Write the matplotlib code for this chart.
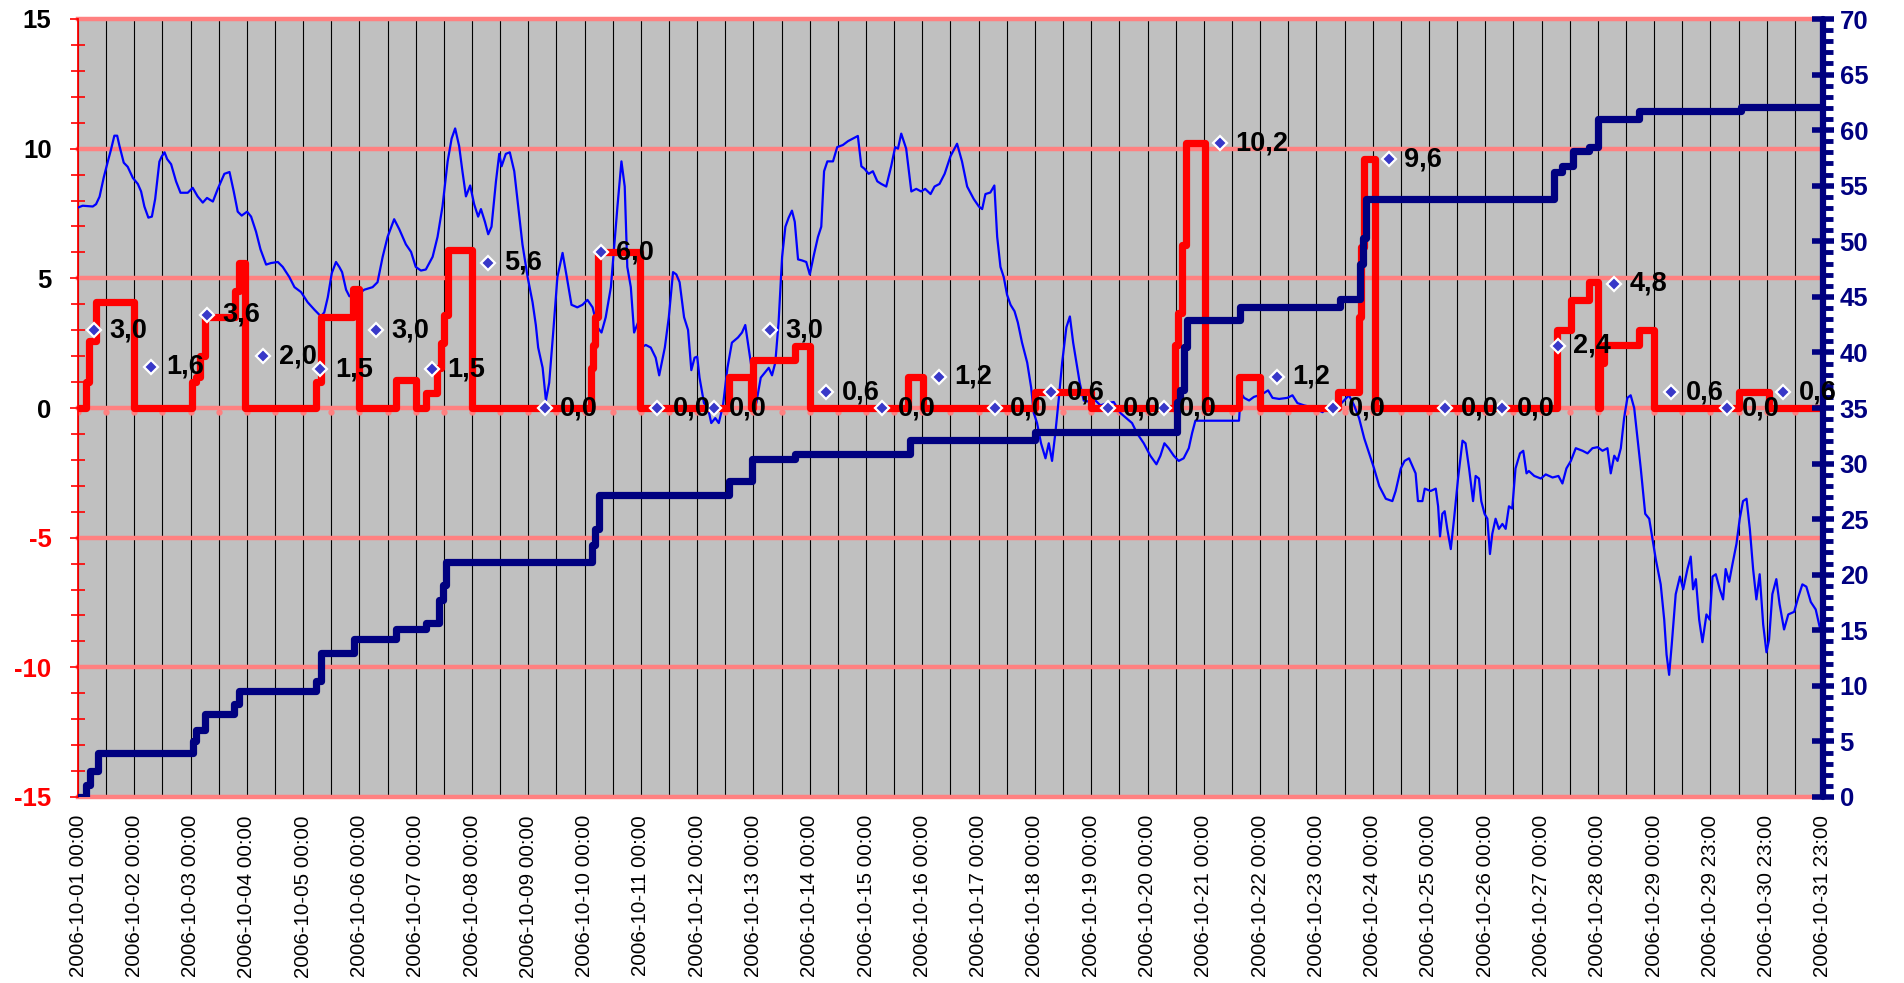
import matplotlib
matplotlib.use("Agg")
import matplotlib.pyplot as plt
import matplotlib.transforms as mtransforms
from matplotlib.ticker import MultipleLocator

plt.rcParams['font.family'] = ['Liberation Sans', 'DejaVu Sans']

# ---------------- data ----------------
# x axis: hour index from 2006-10-01 00:00 (hourly records, one repeated at DST change)
date_labels = ["2006-10-%02d 00:00" % d for d in range(1, 30)] + [
    "2006-10-29 23:00", "2006-10-30 23:00", "2006-10-31 23:00"]

# thin blue line (left axis)
blue_hours = [0, 2, 6.3, 7.7, 9.2, 11, 12.7, 14, 15.5, 16.7, 17.7, 19.5, 21.2, 23.4, 25.5, 26.9, 28.3, 30, 31.5, 32.9,
              34.7, 35.7, 36.9, 38, 39.7, 41.8, 43.7, 46.8, 48.9, 51, 53.2, 55, 57.5, 59.6, 62.4, 64.6, 66.4, 68.1, 69.8,
              72.1, 73.8, 75.9, 77.8, 80.2, 82.3, 85.2, 87.3, 90.1, 92.3, 95.1, 97.9, 100.8, 103.6, 105, 106.5, 108.2,
              110, 111.4, 112.6, 114.3, 115.7, 118.5, 120.7,
              122, 125.6, 127.7, 129.9, 132, 134.8, 137, 139.8, 142, 144, 146.2, 148.3, 151.2, 153.3, 155.4, 157.6,
              159.3, 160.8, 162.5, 163.9, 165.4, 167.2, 168.9, 170.6, 171.8, 173.5, 174.9, 176.3, 178.2, 179.6, 180.6,
              182.4, 184.1, 186, 187.7, 189.5, 191.7, 193.8, 195.2, 196.2, 198.1, 199.5, 200.9, 202.6, 204.4, 206.6,
              208.4, 210.4, 212.9, 215.1, 217.2, 219.4, 221.5, 223.2, 225, 227.2, 230, 231.7, 233.1, 234.2, 235.7,
              237.1, 238.8, 240, 242.1, 244.2, 246.3, 247.8,
              250.2, 251.9, 253.7, 255.1, 256.5, 258.4, 260.1, 261.5, 262.9, 264, 265, 266.9, 268.6, 270, 271.7,
              273.2, 275, 276.9, 278.8, 281.4, 283.1, 284.5, 285.9, 287.8, 289.2, 291.1, 292.8, 294.5, 295.9, 297.3,
              298.7, 300.2, 301.6, 303, 304.4, 305.6, 307, 308.7, 310.5, 312, 313.8, 315.5, 316.9, 318.1, 319.5,
              321.9, 323.7, 326.1, 328.3, 330.4, 332.5, 334, 335.4, 337.1, 338.9, 340.8, 342.5, 344.6, 346.7, 348.4,
              349.6, 351, 353.1, 355.3, 357.4, 359.5, 361.2, 363.5, 365.2, 367.3, 369.5,
              372, 374.8, 376.9, 379.1, 381.9, 384.1, 385.5, 386.9, 389, 390.7, 391.9, 393.3, 394.7, 396.1, 397.6,
              399.3, 400.7, 402.5, 404.7, 406.4, 407.5, 408.9, 410.6, 412.5, 413.9, 415.3, 416.7, 418.2, 419.6,
              421.4, 422.9, 424.3, 425.7, 427.1, 428.8, 431.7, 433.8, 435.9, 438.8, 441.6, 444.4, 447, 449.4, 451.5,
              454.4, 457.2, 459.8, 461.5, 463.2, 465, 467.2, 469.3, 471.4, 473.6, 475, 476.4, 495,
              495.8, 497.2, 499.3, 501.4, 503.6, 505.7, 507.4, 509.3, 512.1, 515.6, 517.8, 519.9, 522.8, 525.6,
              528.4, 530.6, 532.7, 535.5, 537.7, 539.8, 541.9, 544.1, 546.2, 548.4, 550.5, 552.6, 554.8, 557.6,
              560.4, 561.8, 564, 565.6, 567.5, 568.9, 570.3, 571.3, 573.2, 574.2, 576.7, 578.9, 579.9, 580.7, 581.7,
              582.7, 583.8, 585.3, 586.7, 588.4, 590.3, 591.6, 593.1, 594.8, 595.9, 597.3, 598.3, 599.7, 600.9, 602,
              603, 604.4, 605.8, 607.3, 608.7, 610.1, 611.5, 612.9, 614.8, 616.2, 617.6, 618.6,
              620.9, 623.7, 625.8, 628.7, 631.2, 632.9, 634.6, 636.5, 638.6, 641.5, 643.6, 645.7, 647.9, 650, 652.1,
              653.5, 655, 656.4, 657.8, 659.2, 660.6, 662, 663.5, 664.9, 666.3, 668.2, 669.9, 671.3, 672.7, 674.8,
              676.3, 677.3, 678.4, 679.5, 681.2, 683, 684.4, 686.2, 687.6, 688.6, 689.8, 691.2, 692.6, 694.3, 695.7,
              696.9, 698.3, 700, 701.4, 702.5, 704, 705.4, 707.1, 708.5, 709.9, 711.4, 712.8, 714.2, 715.6, 717,
              718.5, 719.9, 721, 722.4, 724.1, 725.5, 727.4, 729.2, 731.7, 733.5, 735.2, 736.9, 738.8, 740.9, 742.6,
              744]
blue_vals = [7.73, 7.8, 7.77, 7.86, 8.15, 8.9, 9.5, 9.94, 10.5, 10.5, 10.1, 9.46, 9.3, 8.87, 8.64, 8.35, 7.77, 7.34,
             7.38, 8.06, 9.5, 9.7, 9.86, 9.6, 9.4, 8.74, 8.3, 8.3, 8.49, 8.16, 7.92, 8.1, 7.96, 8.45, 9.03, 9.1, 8.35,
             7.57, 7.42, 7.57, 7.38, 6.8, 6.12, 5.53, 5.59, 5.63, 5.44, 5.05, 4.66, 4.47, 4.08, 3.79, 3.53, 3.69,
             4.27, 5.2, 5.63, 5.44, 5.24, 4.56, 4.31, 4.31, 4.47,
             4.56, 4.66, 4.85, 5.83, 6.6, 7.28, 6.89, 6.31, 6.02, 5.44, 5.3, 5.34, 5.83, 6.6, 7.77, 9.51, 10.39,
             10.78, 10.1, 9.13, 8.16, 8.58, 7.86, 7.38, 7.67, 7.18, 6.7, 6.99, 8.74, 9.8, 9.32, 9.8, 9.86, 9.13,
             7.77, 6.31, 5.05, 4.08, 3.2, 2.33, 1.55, 0.29, 0.97, 2.91, 5.05, 5.98, 5.05, 3.98, 3.88, 3.98, 4.17,
             3.88, 3.11, 2.91, 3.5, 4.66, 7.77, 9.51, 8.54, 5.44, 4.66, 2.91, 3.3, 2.33, 2.43, 2.33, 1.94, 1.26,
             2.33, 3.5, 5.24, 5.15, 4.85, 3.5, 3.01, 1.46, 1.94, 1.98, 1.17, 0.19, 0, -0.58, -0.39, -0.58, 0.1,
             1.55, 2.52, 2.72, 2.91, 3.2, 2.33, 1.17, 0.19, 1.17, 1.36, 1.55, 1.26, 1.75, 3.3, 5.83, 6.99, 7.34,
             7.61, 7.18, 5.73, 5.69, 5.63, 5.15, 5.92, 6.6, 6.99, 9.13, 9.51, 9.51, 10.06, 10.14, 10.29, 10.39,
             10.49, 9.32, 9.22, 9.03, 9.13, 8.74, 8.64, 8.54, 9.32, 10.06, 10.0, 10.58, 10.0, 8.35, 8.45, 8.35,
             8.45, 8.25, 8.54, 8.64, 9.03,
             9.71, 10.19, 9.51, 8.54, 8.06, 7.77, 7.67, 8.25, 8.31, 8.58, 6.6, 5.44, 5.05, 4.37, 3.98, 3.73, 3.3,
             2.52, 1.75, 0.78, -0.19, -0.58, -1.36, -1.94, -1.36, -2.04, -0.97, 0.39, 1.75, 3.11, 3.53, 2.52, 1.75,
             0.97, 0.29, 0.23, 0.29, 0.1, 0.19, 0.23, -0.19, -0.39, -0.58, -0.97, -1.36, -1.84, -2.17, -1.84,
             -1.36, -1.55, -1.84, -2.04, -1.94, -1.55, -0.97, -0.49, -0.49,
             0.58, 0.39, 0.29, 0.43, 0.49, 0.58, 0.68, 0.39, 0.35, 0.39, 0.49, 0.19, 0.1, 0.04, -0.06, -0.16, 0,
             0.16, 0.1, 0.29, 0.49, 0.1, -0.39, -1.17, -1.75, -2.33, -3.01, -3.5, -3.59, -3.2, -2.33, -2.04,
             -1.94, -2.23, -2.52, -3.59, -3.59, -3.11, -3.2, -3.11, -3.79, -4.95, -4.08, -3.98, -4.66, -5.44,
             -4.27, -2.72, -1.26, -1.36, -2.33, -3.59, -2.62, -2.72, -3.59, -4.08, -4.27, -5.63, -4.85, -4.27,
             -4.66, -4.47, -4.66, -3.79, -3.88, -2.33, -1.75, -1.65, -2.52, -2.43,
             -2.62, -2.72, -2.56, -2.68, -2.62, -2.91, -2.33, -2.04, -1.55, -1.65, -1.75, -1.55, -1.51, -1.65,
             -1.55, -2.52, -1.84, -2.04, -1.55, -0.39, 0.39, 0.49, 0, -1.17, -2.33, -4.08, -4.27, -5.05, -5.83,
             -6.8, -8.16, -9.51, -10.29, -9.13, -7.18, -6.5, -6.99, -6.21, -5.73, -6.99, -6.6, -8.16, -9.03,
             -7.96, -8.16, -6.5, -6.41, -6.99, -7.38, -6.21, -6.7, -6.02, -5.24, -4.27, -3.59, -3.5, -4.66, -6.21,
             -7.38, -6.41, -8.35, -9.42, -8.93, -7.18, -6.6, -7.57, -8.54, -7.96, -7.86, -7.28, -6.8, -6.89,
             -7.48, -7.77, -8.45, -8.6]

# thick red stepped line (left axis): hour where a new value starts, and the value
red_hours = [0, 3.5, 4.5, 7.5, 24, 48.5, 50.4, 52.2, 54.2, 67, 68.8, 71.2, 101.5, 103.6, 117.1, 120,
             135.6, 144.1, 148.3, 153, 154.7, 156.1, 157.6, 167.8, 218.6, 219.5, 220.5, 221.5, 239.7,
             277.4, 287, 288, 305.6, 312, 353.8, 360.2, 408.2, 431.7, 467.7, 469, 470.5, 472.4, 480.5,
             494.8, 504, 537.4, 546.2, 547.2, 548.2, 553, 630.8, 636.5, 644.3, 648, 649, 650.5, 665.6,
             672, 708.2, 721, 744]
red_vals = [0, 1.0, 2.6, 4.1, 0, 1.0, 1.2, 2.0, 3.5, 4.5, 5.6, 0, 1.0, 3.5, 4.6, 0,
            1.07, 0, 0.58, 1.55, 2.5, 3.6, 6.1, 0, 1.55, 2.43, 3.5, 6.0, 0,
            1.2, 0, 1.84, 2.4, 0, 1.2, 0, 0.6, 0, 2.43, 3.66, 6.3, 10.2, 0,
            1.2, 0, 0.6, 3.5, 6.2, 9.6, 0, 3.0, 4.17, 4.85, 0, 1.75, 2.43, 3.0,
            0, 0.6, 0, 0]

# thick navy cumulative line (right axis)
cum_hours = [0, 3.5, 5, 8.4, 48.9, 50.5, 54.2, 66.7, 68.5, 101.5, 103.5, 117.5, 135.6, 148.3, 154, 155.5,
             157, 219, 220.5, 222, 277.4, 287.5, 305.6, 354.6, 408.2, 468.4, 470, 471.5, 472.7, 495.4,
             538.1, 546.4, 547.8, 549.2, 629.4, 632.9, 637.2, 644.3, 647.9, 665.6, 708.9, 744]
cum_vals = [0, 1.1, 2.3, 4.0, 5.0, 6.0, 7.5, 8.4, 9.5, 10.4, 13.0, 14.2, 15.1, 15.7, 17.7, 19.1,
            21.1, 22.7, 24.1, 27.2, 28.4, 30.4, 30.9, 32.1, 32.8, 35.5, 36.6, 40.5, 42.9, 44.1,
            44.8, 48.0, 50.3, 53.8, 56.2, 56.8, 58.1, 58.5, 61.0, 61.7, 62.1, 62.1]

# daily sums shown as diamonds with labels
day_hours = [7 + 24 * k for k in range(31)]
day_sums = [3.0, 1.6, 3.6, 2.0, 1.5, 3.0, 1.5, 5.6, 0.0, 6.0, 0.0, 0.0, 3.0, 0.6, 0.0, 1.2,
            0.0, 0.6, 0.0, 0.0, 10.2, 1.2, 0.0, 9.6, 0.0, 0.0, 2.4, 4.8, 0.6, 0.0, 0.6]

# ---------------- figure ----------------
W, H = 1904, 983
fig = plt.figure(figsize=(W / 100, H / 100), dpi=100)
ax = fig.add_axes([78 / W, 1 - 797 / H, (1823 - 78) / W, (797 - 19) / H])
ax.set_facecolor('#C0C0C0')
ax.set_xlim(0, 744)
ax.set_ylim(-15, 15)

# grid (vertical every 12 h, horizontal every 5 units)
grid_hours = list(range(0, 745, 12))
for h in grid_hours:
    ax.axvline(h, color='black', lw=0.8, zorder=1)
for v in range(-15, 16, 5):
    ax.axhline(v, color='#FF8080', lw=3.2, zorder=1.5, clip_on=False)
# small category-axis tick marks hanging below the zero line
tick_tr = mtransforms.offset_copy(ax.transData, fig=fig, x=0, y=-4, units='dots')
ax.plot(grid_hours, [0] * len(grid_hours), linestyle='none', marker='o', markersize=3.5,
        color='#FF8080', transform=tick_tr, zorder=1.6)

ax.plot(blue_hours, blue_vals, color='#0000FF', lw=1.6, zorder=3)
ax.plot(red_hours, red_vals, color='#FF0000', lw=5.2, drawstyle='steps-post', zorder=4,
        solid_joinstyle='round')

# left axis styling
ax.set_yticks([-15, -10, -5, 0, 5, 10, 15])
ax.set_yticklabels(['-15', '-10', '-5', '0', '5', '10', '15'], fontweight='bold')
ax.yaxis.set_minor_locator(MultipleLocator(1))
ax.tick_params(axis='y', which='major', direction='out', length=6, width=1.2, color='red',
               labelsize=18.5, pad=13)
ax.tick_params(axis='y', which='minor', direction='inout', length=9.5, width=1.2, color='red')
for lab, v in zip(ax.get_yticklabels(), [-15, -10, -5, 0, 5, 10, 15]):
    lab.set_color('red' if v < 0 else 'black')

ax.set_xticks(list(range(0, 745, 24)))
ax.set_xticklabels(date_labels, rotation=90, fontsize=14.8)
ax.tick_params(axis='x', length=0, pad=13)
for lab in ax.get_xticklabels():
    lab.set_va('top')
    lab.set_ha('center')

ax.spines['left'].set_color('red')
ax.spines['left'].set_linewidth(1.3)
for s in ['top', 'bottom', 'right']:
    ax.spines[s].set_visible(False)

# right axis
ax2 = ax.twinx()
ax2.set_ylim(0, 70)
ax2.set_xlim(0, 744)
ax2.plot(cum_hours, cum_vals, color='#000080', lw=5.2, drawstyle='steps-post', zorder=5,
         solid_joinstyle='round')
ax2.yaxis.set_major_locator(MultipleLocator(5))
ax2.yaxis.set_minor_locator(MultipleLocator(1))
ax2.tick_params(axis='y', which='major', direction='inout', length=16, width=4, color='#000080',
                labelsize=18.5, labelcolor='#000080', pad=4)
ax2.tick_params(axis='y', which='minor', direction='out', length=7, width=3.5, color='#000080')
for lab in ax2.get_yticklabels():
    lab.set_fontweight('bold')
for s in ['top', 'bottom', 'left']:
    ax2.spines[s].set_visible(False)
ax2.spines['right'].set_color('#000080')
ax2.spines['right'].set_linewidth(4.5)
ax2.spines['right'].set_capstyle('round')

# daily markers and labels (drawn on top, in left-axis coordinates)
ax2.plot(day_hours, day_sums, linestyle='none', marker='D', markersize=7.5,
         markerfacecolor='#3838C8', markeredgecolor='white', markeredgewidth=1.6,
         transform=ax.transData, zorder=6)
for h, v in zip(day_hours, day_sums):
    ax2.annotate(('%.1f' % v).replace('.', ','), xy=(h, v), xycoords=ax.transData,
                 xytext=(11, 0), textcoords='offset points', ha='left', va='center',
                 fontsize=19.5, fontweight='bold', color='black', zorder=7)

fig.savefig('out.png', dpi=100, facecolor='white')
